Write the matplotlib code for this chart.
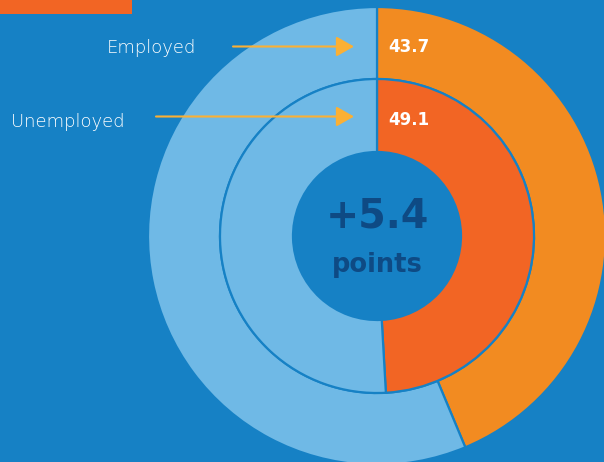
import matplotlib
matplotlib.use("Agg")
import matplotlib.pyplot as plt

# data
groups = ["Employed", "Unemployed"]
shares = [43.7, 49.1]          # % in orange
gap_label = "+5.4"
gap_unit = "points"

# colours
BG = "#1681c5"
LIGHT = "#6fb9e6"
ORANGE = "#f28b21"
RED_ORANGE = "#f26524"
ARROW = "#fbb034"
NAVY = "#0e4a84"

W, H = 604, 462
fig = plt.figure(figsize=(W / 100, H / 100), dpi=100, facecolor=BG)
ax = fig.add_axes([0, 0, 1, 1])
ax.set_facecolor(BG)

cx, cy = 377, H - 236
r_out, r_mid, r_in = 229, 157, 84

# outer ring = employed, inner ring = unemployed
ax.pie([shares[0], 100 - shares[0]], radius=r_out, center=(cx, cy),
       startangle=90, counterclock=False, colors=[ORANGE, LIGHT],
       wedgeprops=dict(width=r_out - r_mid, edgecolor=BG, linewidth=1.6))
ax.pie([shares[1], 100 - shares[1]], radius=r_mid, center=(cx, cy),
       startangle=90, counterclock=False, colors=[RED_ORANGE, LIGHT],
       wedgeprops=dict(width=r_mid - r_in, edgecolor=BG, linewidth=1.6))

ax.set_xlim(0, W)
ax.set_ylim(0, H)
ax.set_aspect("equal")
ax.axis("off")

# orange tab top left
ax.add_patch(plt.Rectangle((0, H - 14), 132, 14, color=RED_ORANGE, lw=0))

# labels + arrows
label_base = [H - 53, H - 127]
num_base = [H - 52, H - 125]
arrow_y = [H - 46.5, H - 116.5]
label_x = [196, 125]
arrow_x0 = [233, 156]
for g, v, lb, nb, ay, lx, ax0 in zip(groups, shares, label_base, num_base,
                                     arrow_y, label_x, arrow_x0):
    ax.text(lx, lb, g, color="white", fontsize=13, family="DejaVu Sans",
            fontweight="light", ha="right", va="baseline")
    ax.annotate("", xy=(354, ay), xytext=(ax0, ay),
                arrowprops=dict(arrowstyle="-|>,head_length=0.6,head_width=0.34",
                                color=ARROW, lw=1.5, mutation_scale=18,
                                shrinkA=0, shrinkB=0))
    ax.text(388, nb, f"{v:.1f}", color="white", fontsize=12, family="DejaVu Sans",
            fontweight="bold", ha="left", va="baseline")

# centre text
ax.text(cx, H - 227, gap_label, color=NAVY, fontsize=28.5, family="DejaVu Sans",
        fontweight="bold", ha="center", va="baseline")
ax.text(cx, H - 272, gap_unit, color=NAVY, fontsize=18.5, family="DejaVu Sans",
        fontweight="bold", ha="center", va="baseline")

fig.savefig("out.png", dpi=100, facecolor=BG)
